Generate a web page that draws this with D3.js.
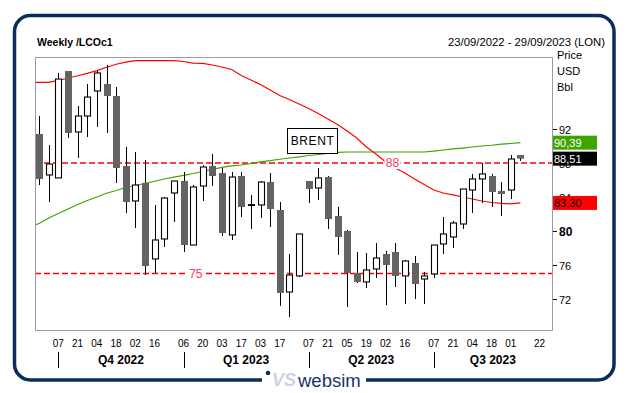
<!DOCTYPE html>
<html>
<head>
<meta charset="utf-8">
<script src="https://cdnjs.cloudflare.com/ajax/libs/d3/7.8.5/d3.min.js"></script>
<style>
  body { margin: 0; background: #fff; }
  svg { display: block; font-family: "Liberation Sans", Arial, sans-serif; }
</style>
</head>
<body>
<div id="chart"></div>
<script>
// weekly candles, Brent LCOc1 (23/09/2022 .. 08/09/2023)
const openP  = [91.41, 86.59, 86.24, 98.82, 91.65, 93.53, 96.47, 97.29, 95.88, 87.65,
                83.53, 85.65, 76.71, 79.06, 84.47, 85.88, 78.35, 85.29, 87.65, 86.82,
                79.53, 86.47, 83.00, 83.06, 85.76, 82.47, 72.82, 74.71, 85.88, 85.06,
                86.35, 81.76, 80.00, 75.06, 74.00, 75.53, 77.29, 77.53, 74.71, 76.24,
                74.35, 74.94, 78.47, 79.29, 80.82, 84.82, 86.12, 86.47, 84.71, 84.82, 88.94];
const highP  = [93.53, 90.12, 98.59, 98.82, 94.71, 97.29, 98.82, 99.53, 96.94, 89.88,
                89.29, 88.35, 83.06, 84.00, 85.88, 86.94, 85.41, 87.76, 89.06, 87.41,
                86.94, 86.94, 84.24, 85.88, 86.82, 83.41, 77.29, 79.65, 85.88, 87.41,
                86.47, 82.82, 80.12, 77.53, 77.41, 78.59, 77.65, 78.59, 76.59, 77.06,
                75.18, 78.35, 81.65, 81.18, 84.94, 86.71, 88.00, 86.71, 85.76, 88.94, 88.94];
const lowP   = [85.41, 83.41, 86.24, 90.94, 88.59, 91.06, 92.24, 91.53, 85.65, 82.12,
                80.35, 74.82, 75.06, 78.12, 81.06, 77.53, 78.35, 83.53, 85.29, 79.41,
                78.94, 81.65, 80.24, 81.53, 80.47, 71.18, 69.88, 74.59, 83.29, 83.65,
                80.24, 77.18, 71.06, 73.88, 73.29, 74.47, 71.29, 73.41, 71.41, 72.00,
                71.41, 74.47, 77.29, 78.00, 80.24, 82.12, 83.29, 82.82, 81.76, 83.76, 88.24];
const closeP = [86.12, 87.88, 97.88, 91.53, 93.53, 95.76, 98.59, 95.88, 87.41, 83.41,
                85.41, 75.88, 78.94, 83.88, 85.88, 78.35, 85.18, 87.53, 86.47, 79.76,
                86.35, 82.82, 83.10, 85.76, 82.59, 72.71, 74.82, 79.65, 84.94, 86.24,
                81.41, 79.29, 75.06, 74.00, 75.41, 76.82, 76.00, 74.71, 76.47, 73.76,
                74.71, 78.35, 79.65, 80.94, 84.94, 86.12, 86.71, 84.59, 84.35, 88.47, 88.51];

// moving averages, first value is the week before the first candle
const maRed   = [97.49, 97.49, 97.49, 97.71, 98.00, 98.26, 98.55, 98.87, 99.27, 99.62,
                 99.86, 100.04, 100.04, 100.04, 100.04, 100.04, 99.94, 99.76, 99.73, 99.53,
                 99.29, 99.00, 98.29, 97.76, 97.24, 96.59, 95.94, 95.47, 94.94, 94.41,
                 93.82, 93.18, 92.53, 91.76, 90.94, 89.88, 89.06, 88.12, 87.41, 86.82,
                 86.12, 85.47, 84.82, 84.47, 84.24, 84.00, 83.76, 83.53, 83.35, 83.24, 83.18, 83.30];
const maGreen = [80.47, 80.88, 81.53, 82.06, 82.59, 83.12, 83.59, 84.00, 84.44, 84.76,
                 85.12, 85.35, 85.59, 85.85, 86.12, 86.33, 86.55, 86.76, 87.00, 87.24,
                 87.49, 87.65, 87.76, 87.94, 88.12, 88.27, 88.44, 88.59, 88.73, 88.88,
                 89.00, 89.12, 89.24, 89.29, 89.29, 89.29, 89.29, 89.29, 89.29, 89.29,
                 89.29, 89.29, 89.39, 89.53, 89.65, 89.76, 89.88, 90.00, 90.09, 90.21, 90.29, 90.39];

const yTicks = [72, 76, 80, 84, 88, 92];
const levels = [88, 75];
const levelLabelDates = ["2023-06-07", "2023-01-15"];
const lastLabels = [
  { value: 90.39, text: "90,39", fill: "#3ea400", color: "#fff" },
  { value: 88.51, text: "88,51", fill: "#000", color: "#fff" },
  { value: 83.30, text: "83,30", fill: "#ff0000", color: "#000" }
];
const xTickDates = ["2022-10-07", "2022-10-21", "2022-11-04", "2022-11-18", "2022-12-02", "2022-12-16",
                    "2023-01-06", "2023-01-20", "2023-02-03", "2023-02-17", "2023-03-03", "2023-03-17",
                    "2023-04-07", "2023-04-21", "2023-05-05", "2023-05-19", "2023-06-02", "2023-06-16",
                    "2023-07-07", "2023-07-21", "2023-08-04", "2023-08-18", "2023-09-01", "2023-09-22"];
const quarterStarts = ["2022-10-07", "2023-01-06", "2023-04-07", "2023-07-07"];
const quarterNames = ["Q4 2022", "Q1 2023", "Q2 2023", "Q3 2023"];

const parse = d3.timeParse("%Y-%m-%d");
const width = 626, height = 393;
const plot = { left: 35, right: 552, top: 57, bottom: 330 };

const weeks = d3.timeFriday.range(parse("2022-09-16"), parse("2022-09-16").getTime() + 52 * 7 * 864e5 + 1000);
const candles = openP.map((o, i) => ({ date: weeks[i + 1], o, h: highP[i], l: lowP[i], c: closeP[i] }));

const x = d3.scaleTime()
  .domain([parse("2022-09-20"), parse("2023-10-01")])
  .range([plot.left, plot.right]);
const y = d3.scaleLinear()
  .domain([68.35, 100.47])
  .range([plot.bottom, plot.top]);

const svg = d3.select("#chart").append("svg")
  .attr("width", width)
  .attr("height", height);

// outer frame
svg.append("rect")
  .attr("x", 14.5).attr("y", 15.5)
  .attr("width", 599.5).attr("height", 364.5)
  .attr("rx", 16)
  .attr("fill", "none")
  .attr("stroke", "#0b2d5b")
  .attr("stroke-width", 3.5);
svg.append("rect")
  .attr("x", 262).attr("y", 370).attr("width", 104).attr("height", 23)
  .attr("fill", "#fff");

// logo
svg.append("circle").attr("cx", 268).attr("cy", 373).attr("r", 2.3).attr("fill", "#0b2d5b");
svg.append("text")
  .attr("x", 272).attr("y", 386)
  .attr("font-size", 18).attr("font-weight", "bold").attr("font-style", "italic")
  .attr("fill", "#c9d5e4")
  .text("VS");
svg.append("text")
  .attr("x", 298).attr("y", 387)
  .attr("font-size", 18.5)
  .attr("fill", "#17366a")
  .text("websim");

// header
svg.append("text")
  .attr("x", 37).attr("y", 46)
  .attr("font-size", 10.5).attr("font-weight", "bold")
  .text("Weekly /LCOc1");
svg.append("text")
  .attr("x", 605).attr("y", 46)
  .attr("text-anchor", "end")
  .attr("font-size", 11.3)
  .text("23/09/2022 - 29/09/2023 (LON)");

["Price", "USD", "Bbl"].forEach((t, i) => {
  svg.append("text")
    .attr("x", 557).attr("y", 59 + i * 16)
    .attr("font-size", 11)
    .text(t);
});

// plot frame
svg.append("rect")
  .attr("x", plot.left + 0.5).attr("y", plot.top + 0.5)
  .attr("width", plot.right - plot.left).attr("height", plot.bottom - plot.top)
  .attr("fill", "none")
  .attr("stroke", "#9a9aa8");

svg.append("defs").append("clipPath").attr("id", "clip")
  .append("rect")
  .attr("x", plot.left + 1).attr("y", plot.top + 1)
  .attr("width", plot.right - plot.left - 1).attr("height", plot.bottom - plot.top - 1);

const g = svg.append("g").attr("clip-path", "url(#clip)");

// dashed levels
levels.forEach(v => {
  g.append("line")
    .attr("x1", plot.left).attr("x2", plot.right)
    .attr("y1", y(v)).attr("y2", y(v))
    .attr("stroke", "#ff0000")
    .attr("stroke-width", 1.5)
    .attr("stroke-dasharray", "6,3");
});

// moving averages
const line = d3.line()
  .x((d, i) => x(weeks[i]))
  .y(d => y(d));
g.append("path")
  .attr("d", line(maGreen))
  .attr("fill", "none")
  .attr("stroke", "#3ea400")
  .attr("stroke-width", 1.2);
g.append("path")
  .attr("d", line(maRed))
  .attr("fill", "none")
  .attr("stroke", "#ff0000")
  .attr("stroke-width", 1.2);

// level labels
levels.forEach((v, i) => {
  const cx = x(parse(levelLabelDates[i]));
  g.append("rect")
    .attr("x", cx - 8).attr("y", y(v) - 6)
    .attr("width", 16).attr("height", 12)
    .attr("fill", "#fff");
  g.append("text")
    .attr("x", cx).attr("y", y(v) + 4.5)
    .attr("text-anchor", "middle")
    .attr("font-size", 12)
    .attr("fill", "#ff3a5c")
    .text(v);
});

// candles
const cg = g.selectAll("g.candle")
  .data(candles)
  .join("g")
  .attr("class", "candle")
  .attr("transform", d => `translate(${Math.round(x(d.date))},0)`);

cg.append("line")
  .attr("x1", 0.5).attr("x2", 0.5)
  .attr("y1", d => y(d.h)).attr("y2", d => y(d.l))
  .attr("stroke", "#000");

cg.append("rect")
  .attr("x", d => d.c >= d.o ? -2.5 : -3)
  .attr("width", d => d.c >= d.o ? 6 : 7)
  .attr("y", d => y(Math.max(d.o, d.c)))
  .attr("height", d => Math.max(0.01, y(Math.min(d.o, d.c)) - y(Math.max(d.o, d.c))))
  .attr("fill", d => d.c >= d.o ? "#fff" : "#636363")
  .attr("stroke", d => d.c >= d.o ? "#000" : "none")
  .attr("stroke-width", 1.1);

// BRENT box
svg.append("rect")
  .attr("x", 287.5).attr("y", 128.5)
  .attr("width", 50).attr("height", 25)
  .attr("fill", "#fff")
  .attr("stroke", "#000");
svg.append("text")
  .attr("x", 312.5).attr("y", 145)
  .attr("text-anchor", "middle")
  .attr("font-size", 12)
  .attr("letter-spacing", 0.6)
  .text("BRENT");

// right axis
const ya = svg.append("g");
yTicks.forEach(v => {
  const yy = Math.round(y(v)) + 0.5;
  ya.append("line")
    .attr("x1", plot.right + 1).attr("x2", plot.right + 5)
    .attr("y1", yy).attr("y2", yy)
    .attr("stroke", "#000");
  ya.append("text")
    .attr("x", 559).attr("y", yy + 4)
    .attr("font-size", v === 80 ? 12 : 11)
    .attr("font-weight", v === 80 ? "bold" : "normal")
    .text(v);
});

lastLabels.forEach(l => {
  const yy = y(l.value);
  ya.append("rect")
    .attr("x", plot.right + 1).attr("y", yy - 7)
    .attr("width", 44).attr("height", 14)
    .attr("fill", l.fill);
  ya.append("text")
    .attr("x", plot.right + 2).attr("y", yy + 4)
    .attr("font-size", 11)
    .attr("fill", l.color)
    .text(l.text);
});

// bottom axis
const fmtDay = d3.timeFormat("%d");
svg.append("g").selectAll("text")
  .data(xTickDates.map(parse))
  .join("text")
  .attr("x", d => x(d))
  .attr("y", 347)
  .attr("text-anchor", "middle")
  .attr("font-size", 10)
  .text(d => fmtDay(d));

const qx = quarterStarts.map(s => x(parse(s)));
svg.append("g").selectAll("line")
  .data(qx)
  .join("line")
  .attr("x1", d => Math.round(d) + 0.5).attr("x2", d => Math.round(d) + 0.5)
  .attr("y1", 352).attr("y2", 368)
  .attr("stroke", "#000");

svg.append("g").selectAll("text")
  .data(quarterNames)
  .join("text")
  .attr("x", (d, i) => ((qx[i] + (i + 1 < qx.length ? qx[i + 1] : plot.right)) / 2))
  .attr("y", 364)
  .attr("text-anchor", "middle")
  .attr("font-size", 12)
  .attr("font-weight", "bold")
  .text(d => d);
</script>
</body>
</html>
